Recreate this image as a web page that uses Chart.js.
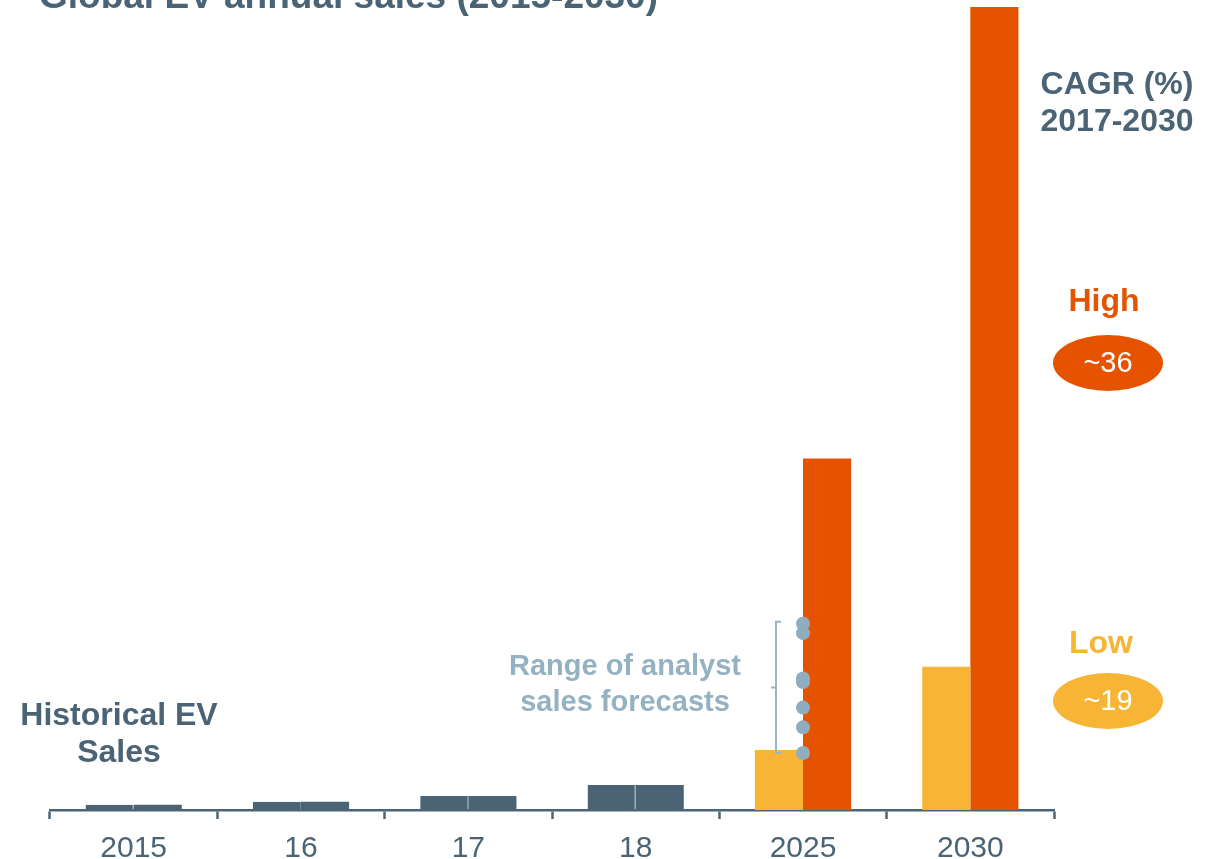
<!DOCTYPE html>
<html>
<head>
<meta charset="utf-8">
<script src="https://cdn.jsdelivr.net/npm/chart.js@4"></script>
<style>
  html, body { margin: 0; padding: 0; background: #fff; overflow: hidden; }
  #wrap { width: 1214px; height: 879px; }
</style>
</head>
<body>
<div id="wrap"><canvas id="c"></canvas></div>
<script>
// years on the axis
const years = ['2015', '16', '17', '18', '2025', '2030'];
// annual sales, millions of cars (history is the same in both cases)
const lowSales  = [0.45, 0.7, 1.2, 2.15, 5.15, 12.3];
const highSales = [0.45, 0.7, 1.2, 2.15, 30.2, 69];
const histCount = 4;
// analyst forecasts for 2025, millions
const forecastYear = '2025';
const forecasts = [16.0, 15.2, 11.3, 11.0, 8.8, 7.1, 4.9];
// CAGR 2017-2030
const cagrLow = '~19';
const cagrHigh = '~36';

const SLATE = '#4a6476';
const ORANGE = '#e55300';
const YELLOW = '#f8b535';
const PALE = '#8fadbe';
const FONT = '"Liberation Sans", Arial, sans-serif';

const isHist = (i) => i < histCount;

// titles and side labels
const textPlugin = {
  id: 'texts',
  afterDatasetsDraw(chart) {
    const { ctx, scales: { x, y } } = chart;
    ctx.save();

    // bracket next to the forecast dots
    const cx = x.getPixelForValue(years.indexOf(forecastYear)) - 27;
    const top = y.getPixelForValue(Math.max(...forecasts)) - 2;
    const bot = y.getPixelForValue(Math.min(...forecasts));
    const mid = (top + bot) / 2;
    ctx.strokeStyle = '#9bb4c2';
    ctx.lineWidth = 2;
    ctx.beginPath();
    ctx.moveTo(cx + 5, top);
    ctx.lineTo(cx, top);
    ctx.lineTo(cx, bot);
    ctx.lineTo(cx + 5, bot);
    ctx.moveTo(cx, mid);
    ctx.lineTo(cx - 5, mid);
    ctx.stroke();
    ctx.restore();
  },
  afterDraw(chart) {
    const { ctx } = chart;
    ctx.save();
    ctx.textAlign = 'left';
    ctx.textBaseline = 'alphabetic';
    ctx.fillStyle = SLATE;
    ctx.font = 'bold 37px ' + FONT;
    ctx.fillText('Global EV annual sales (2015-2030)', 39, 8);

    ctx.textAlign = 'center';
    ctx.textBaseline = 'middle';
    ctx.font = 'bold 32px ' + FONT;
    ctx.fillText('Historical EV', 119, 716);
    ctx.fillText('Sales', 119, 753);

    ctx.fillText('CAGR (%)', 1117, 85);
    ctx.fillText('2017-2030', 1117, 122);

    ctx.fillStyle = '#94b2c1';
    ctx.font = 'bold 29px ' + FONT;
    ctx.fillText('Range of analyst', 625, 667);
    ctx.fillText('sales forecasts', 625, 703);

    ctx.font = 'bold 32px ' + FONT;
    ctx.fillStyle = ORANGE;
    ctx.fillText('High', 1104, 302);
    ctx.fillStyle = YELLOW;
    ctx.fillText('Low', 1101, 644);

    const pill = (cy, col, txt) => {
      ctx.fillStyle = col;
      ctx.beginPath();
      ctx.ellipse(1108, cy, 55, 28, 0, 0, Math.PI * 2);
      ctx.fill();
      ctx.fillStyle = '#fff';
      ctx.font = '29px ' + FONT;
      ctx.fillText(txt, 1108, cy + 1);
    };
    pill(363, ORANGE, cagrHigh);
    pill(701, YELLOW, cagrLow);
    ctx.restore();
  }
};

const ctx = document.getElementById('c').getContext('2d');
const chart = new Chart(ctx, {
  type: 'bar',
  data: {
    labels: years,
    datasets: [
      {
        label: 'Low',
        data: lowSales,
        backgroundColor: years.map((_, i) => isHist(i) ? SLATE : YELLOW),
        borderColor: '#6f8797',
        borderWidth: years.map((_, i) => isHist(i) ? { right: 1, top: 0, left: 0, bottom: 0 } : 0),
        borderSkipped: false,
        categoryPercentage: 0.575,
        barPercentage: 1,
        order: 2
      },
      {
        label: 'High',
        data: highSales,
        backgroundColor: years.map((_, i) => isHist(i) ? SLATE : ORANGE),
        borderWidth: 0,
        categoryPercentage: 0.575,
        barPercentage: 1,
        order: 2
      },
      {
        type: 'line',
        label: 'Analyst forecasts',
        data: forecasts.map(v => ({ x: forecastYear, y: v })),
        showLine: false,
        pointRadius: 7,
        pointBackgroundColor: PALE,
        pointBorderWidth: 0,
        order: 0
      }
    ]
  },
  options: {
    responsive: true,
    maintainAspectRatio: false,
    animation: false,
    layout: { padding: { left: 50, right: 160, top: 0, bottom: 0 } },
    plugins: {
      legend: { display: false },
      tooltip: { enabled: false }
    },
    scales: {
      x: {
        grid: {
          display: true,
          drawOnChartArea: false,
          offset: true,
          tickLength: 9,
          tickWidth: 2.5,
          tickColor: SLATE
        },
        border: { display: true, color: SLATE, width: 2.5 },
        ticks: {
          color: SLATE,
          padding: 12,
          font: { family: FONT, size: 30 }
        }
      },
      y: {
        display: false,
        min: 0,
        max: 69
      }
    }
  },
  plugins: [textPlugin]
});
</script>
</body>
</html>
